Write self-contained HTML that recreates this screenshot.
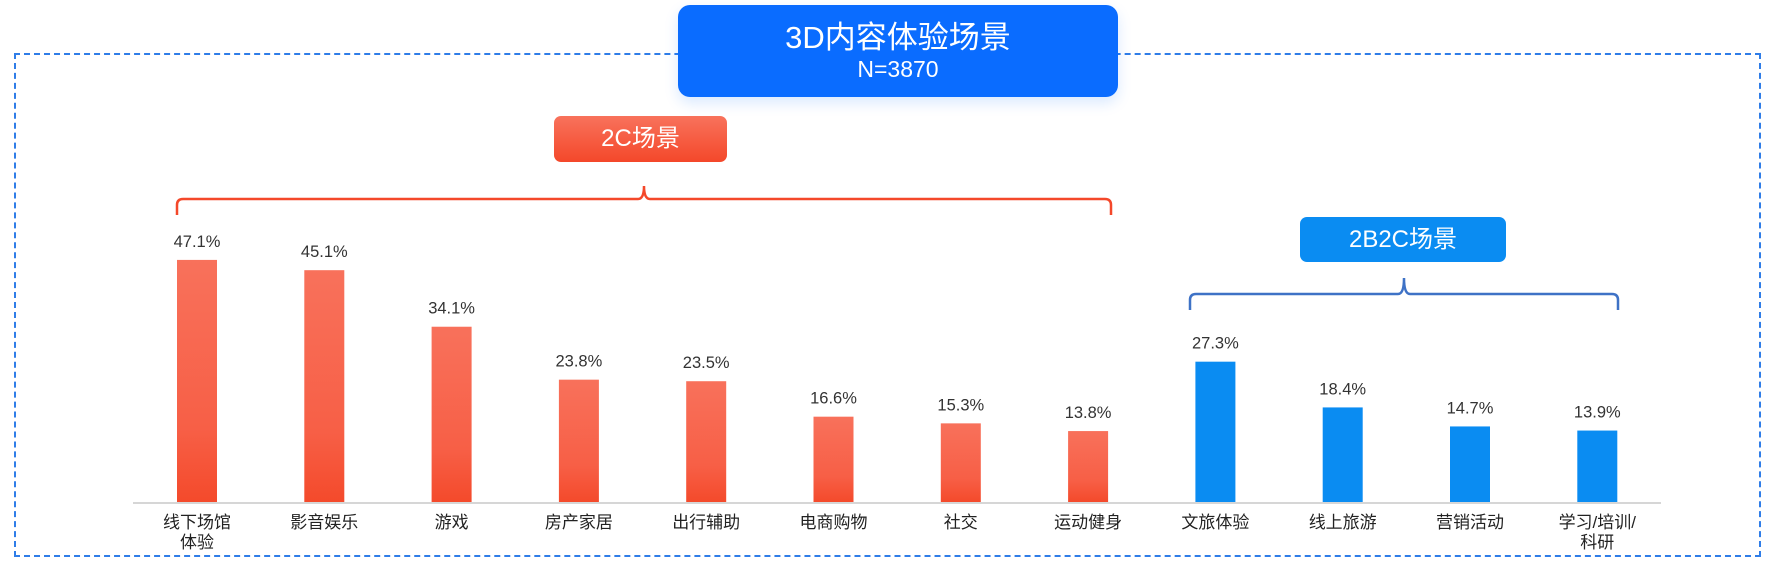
<!DOCTYPE html>
<html><head><meta charset="utf-8">
<style>
html,body{margin:0;padding:0;background:#fff;}
body{width:1772px;height:566px;position:relative;overflow:hidden;font-family:"Liberation Sans","Noto Sans CJK SC",sans-serif;}
.abs{position:absolute;}
</style></head>
<body>
<div class="abs" style="left:14px;top:53px;width:1747px;height:504px;border:2px dashed #2f7de8;box-sizing:border-box;"></div>
<div class="abs" style="left:678px;top:5px;width:440px;height:92px;background:#0a6cff;border-radius:12px;color:#fff;text-align:center;box-shadow:0 6px 14px rgba(10,108,255,0.15);">
  <div style="font-size:31px;line-height:34px;margin-top:16px;">3D内容体验场景</div>
  <div style="font-size:23px;line-height:28px;">N=3870</div>
</div>
<div class="abs" style="left:554px;top:116px;width:173px;height:46px;background:linear-gradient(#f8725c,#f4482a);border-radius:7px;color:#fff;font-size:24px;line-height:46px;text-align:center;">2C场景</div>
<div class="abs" style="left:1300px;top:217px;width:206px;height:45px;background:#0a8cf2;border-radius:7px;color:#fff;font-size:24px;line-height:45px;text-align:center;">2B2C场景</div>
<svg class="abs" style="left:0;top:0" width="1772" height="566" id="chart">
  <path d="M177,215 L177,205 Q177,199 183,199 L638,199 Q644,199 644,186 Q644,199 650,199 L1105,199 Q1111,199 1111,205 L1111,215" fill="none" stroke="#f4482a" stroke-width="2.5"/>
  <path d="M1190,310 L1190,300 Q1190,294 1196,294 L1398,294 Q1404,294 1404,278 Q1404,294 1410,294 L1612,294 Q1618,294 1618,300 L1618,310" fill="none" stroke="#3e72c6" stroke-width="2.5"/>
  <defs>
    <linearGradient id="gr" x1="0" y1="0" x2="0" y2="1"><stop offset="0" stop-color="#f8715b"/><stop offset="0.7" stop-color="#f75f46"/><stop offset="1" stop-color="#f44a2b"/></linearGradient>
  </defs>
  <line x1="133" y1="503" x2="1661" y2="503" stroke="#d6d6d6" stroke-width="2"/>
  <g id="bars"></g>
</svg>
<script>
const categories = ["线下场馆|体验","影音娱乐","游戏","房产家居","出行辅助","电商购物","社交","运动健身","文旅体验","线上旅游","营销活动","学习/培训/|科研"];
const values = [47.1,45.1,34.1,23.8,23.5,16.6,15.3,13.8,27.3,18.4,14.7,13.9];
const groups = ["2C","2C","2C","2C","2C","2C","2C","2C","2B2C","2B2C","2B2C","2B2C"];
const NS="http://www.w3.org/2000/svg";
const baseY=502, pxPer=5.14, x0=197, step=127.3, bw=40;
function xScale(i){return x0+i*step;}
function yScale(v){return baseY-v*pxPer;}
const g=document.getElementById('bars');
values.forEach((v,i)=>{
  const cx=xScale(i), y=yScale(v);
  const r=document.createElementNS(NS,'rect');
  
  
  r.setAttribute('x',cx-bw/2);r.setAttribute('y',y);r.setAttribute('width',bw);r.setAttribute('height',baseY-y);
  r.setAttribute('fill',groups[i]==="2C"?'url(#gr)':'#0a8cf2');
  g.appendChild(r);
  const t=document.createElementNS(NS,'text');
  
  
  t.setAttribute('x',cx);t.setAttribute('y',y-13);t.setAttribute('text-anchor','middle');
  t.setAttribute('font-size','16.5');t.setAttribute('fill','#333');
  t.textContent=v.toFixed(1)+'%';
  g.appendChild(t);
  categories[i].split('|').forEach((line,j)=>{
    const c=document.createElementNS(NS,'text');
    
    
    c.setAttribute('x',cx);c.setAttribute('y',528+j*20);c.setAttribute('text-anchor','middle');
    c.setAttribute('font-size','17');c.setAttribute('fill','#222');
    c.textContent=line;
    g.appendChild(c);
  });
});
</script>
</body></html>
